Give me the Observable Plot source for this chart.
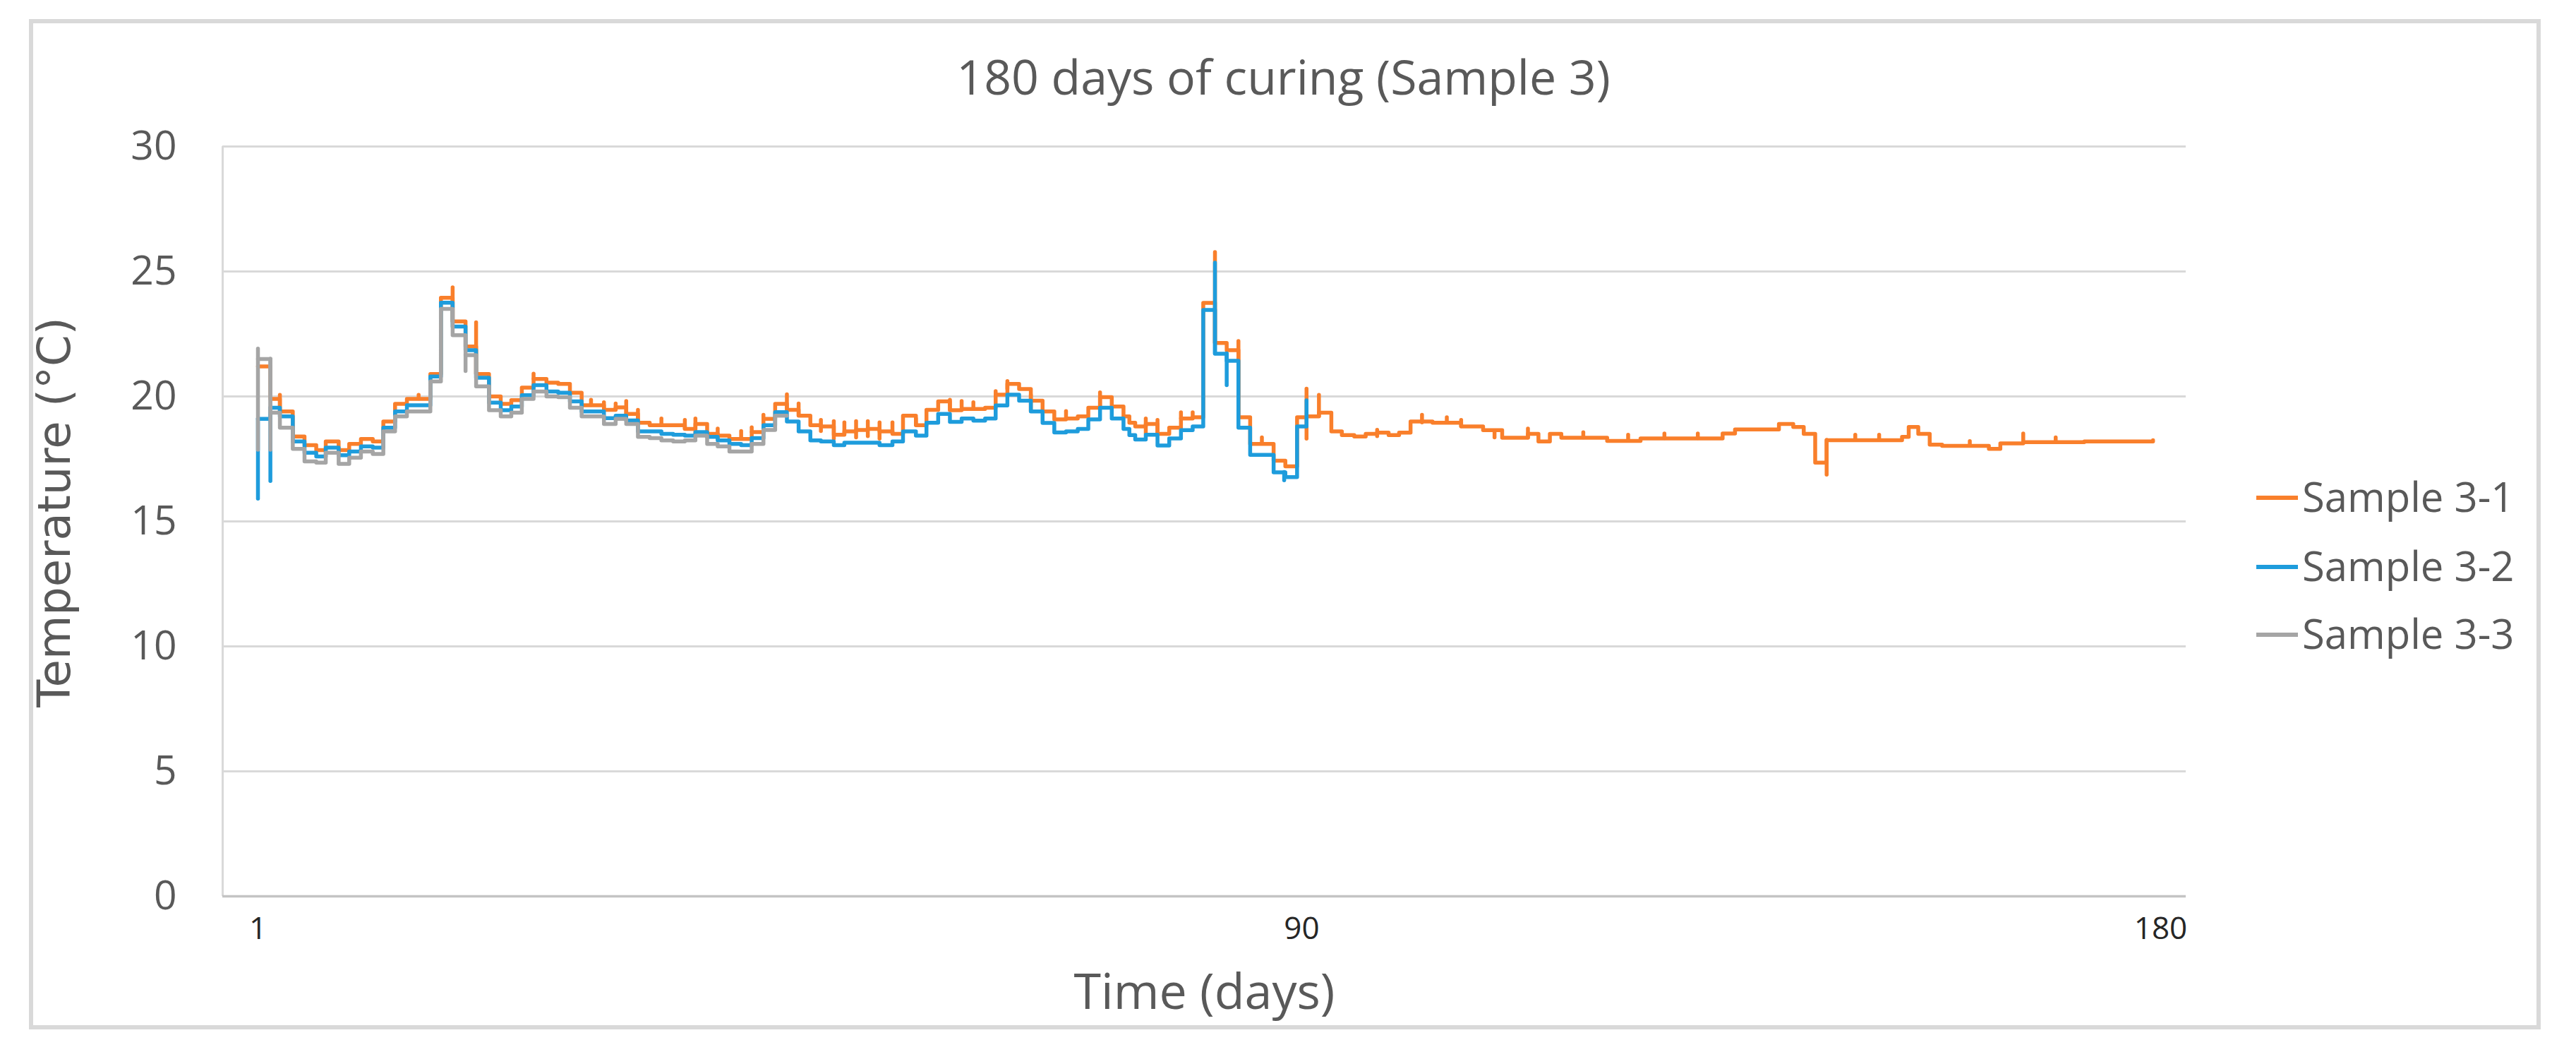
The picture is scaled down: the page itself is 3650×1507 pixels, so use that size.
<!DOCTYPE html>
<html>
<head>
<meta charset="utf-8">
<script src="https://cdn.jsdelivr.net/npm/d3@7"></script>
<script src="https://cdn.jsdelivr.net/npm/@observablehq/plot@0.6"></script>
<style>
  html, body { margin: 0; padding: 0; background: #ffffff; }
  #chart { position: relative; width: 3650px; height: 1507px; }
</style>
</head>
<body>
<div id="chart"></div>
<script>
// ---------- data ----------
const seriesNames = ["Sample 3-1", "Sample 3-2", "Sample 3-3"];
const seriesColors = ["#F97F2B", "#1E9CDC", "#A5A5A5"];

// step start days, first 90 days (shared by the three samples)
const earlyDays = [1.0, 2.06, 2.87, 3.97, 4.97, 5.97, 6.78, 7.88, 8.78, 9.78,
  10.79, 11.69, 12.69, 13.7, 15.7, 16.6, 17.6, 18.7, 19.6, 20.7,
  21.7, 22.6, 23.5, 24.5, 25.6, 26.6, 27.6, 28.6, 30.5, 31.5,
  32.4, 33.4, 34.4, 35.4, 36.4, 37.4, 38.3, 39.3, 40.2, 41.2,
  42.2, 43.1, 44.1, 45.1, 46.1, 47.1, 48.1, 49.0, 50.1, 51.0,
  52.0, 53.0, 54.0, 55.1, 56.0, 57.1, 58.0, 59.0, 60.0, 61.0,
  62.0, 63.0, 63.9, 64.9, 65.9, 66.9, 67.9, 68.9, 69.9, 70.9,
  71.8, 72.8, 73.8, 74.8, 75.3, 75.8, 76.7, 77.7, 78.7, 79.7,
  80.7, 81.6, 82.6, 83.6, 84.6, 85.6, 87.6, 88.6, 89.6, 90.5];

const s31Early = [21.2, 19.9, 19.4, 18.4, 18.05, 17.85, 18.2, 17.85, 18.1, 18.3,
  18.2, 19.0, 19.7, 19.9, 20.9, 23.95, 23.0, 22.0, 20.9, 20.0,
  19.7, 19.85, 20.35, 20.7, 20.55, 20.5, 20.15, 19.65, 19.46, 19.56,
  19.3, 18.95, 18.85, 18.85, 18.85, 18.7, 18.9, 18.5, 18.43, 18.3,
  18.3, 18.57, 19.1, 19.7, 19.46, 19.23, 18.85, 18.8, 18.47, 18.6,
  18.66, 18.7, 18.6, 18.5, 19.23, 18.85, 19.46, 19.8, 19.45, 19.5,
  19.5, 19.55, 20.07, 20.5, 20.3, 19.83, 19.4, 19.08, 19.12, 19.2,
  19.55, 19.97, 19.6, 19.2, 18.95, 18.8, 18.9, 18.5, 18.75, 19.12,
  19.17, 23.74, 22.14, 21.85, 19.17, 18.1, 17.43, 17.2, 19.17, 19.2];

const s32 = [19.1, 19.55, 19.2, 18.2, 17.75, 17.6, 17.95, 17.65, 17.8, 18.0,
  17.95, 18.75, 19.4, 19.65, 20.8, 23.75, 22.8, 21.85, 20.75, 19.75,
  19.45, 19.6, 20.05, 20.45, 20.2, 20.15, 19.8, 19.4, 19.13, 19.23,
  19.04, 18.6, 18.6, 18.5, 18.47, 18.43, 18.57, 18.38, 18.24, 18.1,
  18.05, 18.33, 18.85, 19.37, 19.0, 18.6, 18.24, 18.2, 18.05, 18.15,
  18.15, 18.15, 18.05, 18.2, 18.6, 18.43, 18.95, 19.3, 18.98, 19.12,
  19.03, 19.12, 19.64, 20.07, 19.83, 19.4, 18.94, 18.56, 18.6, 18.7,
  19.08, 19.55, 19.12, 18.7, 18.45, 18.28, 18.47, 18.04, 18.32, 18.65,
  18.8, 23.46, 21.71, 21.43, 18.75, 17.66, 16.96, 16.77, 18.8, 18.8];

const s33 = [21.5, 19.35, 18.75, 17.9, 17.4, 17.35, 17.75, 17.3, 17.55, 17.8,
  17.7, 18.6, 19.2, 19.4, 20.6, 23.5, 22.45, 21.65, 20.4, 19.45,
  19.2, 19.35, 19.9, 20.2, 20.0, 19.97, 19.55, 19.2, 18.9, 19.1,
  18.9, 18.38, 18.33, 18.24, 18.2, 18.24, 18.43, 18.1, 18.0, 17.8,
  17.8, 18.1, 18.66, 19.23, 19.23];

// Sample 3-1 after day 90
const lateDays = [91.8, 93.1, 94.2, 95.5, 96.7, 97.9, 99.1, 100.2, 101.4, 103.7,
  106.7, 109.0, 111.0, 113.7, 114.8, 116.0, 117.2, 122.0, 125.5, 134.1,
  135.4, 140.0, 141.5, 142.6, 143.8, 145.0, 152.9, 153.6, 154.6, 155.8,
  157.1, 162.0, 163.2, 165.6, 172.0, 179.2];
const s31Late = [19.35, 18.6, 18.45, 18.4, 18.5, 18.55, 18.45, 18.55, 19.0, 18.95,
  18.8, 18.65, 18.35, 18.5, 18.2, 18.5, 18.35, 18.22, 18.32, 18.52,
  18.68, 18.9, 18.78, 18.5, 17.35, 18.25, 18.38, 18.78, 18.5, 18.07,
  18.02, 17.9, 18.12, 18.17, 18.2, 18.25];

// short vertical spikes / ticks (day, low, high, sample index)
const spikeDays = [
  2.87, 3.97, 14.7, 17.6, 19.6, 24.5, 32.4, 46.1, 82.6, 84.6, 90.5, 91.8, 145.0, 165.6,
  29.4, 30.5, 31.5, 33.4, 35.4, 37.4, 38.3, 40.2, 42.2, 43.1, 44.1,
  47.1, 49.0, 50.1, 51.0, 52.0, 53.0, 54.0, 55.1, 57.1,
  60.0, 61.0, 62.0, 63.9, 64.9, 66.9, 69.9, 72.8, 76.7, 77.7, 79.7, 80.7, 86.6,
  97.9, 102.6, 105.2, 106.7, 110.2, 113.7, 119.5, 124.2, 128.0, 131.5, 148.0, 150.5, 160.0, 169.0,
  1.0, 2.06, 82.6, 83.6, 88.5, 90.5,
  1.0, 2.06, 18.7];
const spikeLow = [
  19.4, 18.4, 19.9, 23.0, 20.9, 20.7, 19.3, 19.46, 22.14, 19.17, 18.3, 19.2, 16.86, 18.17,
  19.65, 19.46, 19.46, 18.95, 18.85, 18.7, 18.5, 18.3, 18.3, 18.57, 19.1,
  19.23, 18.6, 18.3, 18.47, 18.35, 18.4, 18.3, 18.5, 18.85,
  19.45, 19.5, 19.5, 20.07, 20.3, 19.4, 19.12, 19.6, 18.5, 18.5, 19.12, 19.17, 18.1,
  18.4, 18.95, 18.95, 18.8, 18.35, 18.35, 18.35, 18.22, 18.32, 18.32, 18.25, 18.25, 18.02, 18.17,
  15.9, 16.6, 21.71, 20.44, 16.63, 18.8,
  17.85, 17.85, 21.0];
const spikeHigh = [
  20.05, 18.6, 20.05, 24.35, 22.95, 20.9, 19.8, 20.07, 25.76, 22.2, 20.3, 20.05, 18.25, 18.5,
  19.85, 19.75, 19.7, 19.45, 19.1, 19.05, 19.1, 18.7, 18.6, 18.75, 19.25,
  19.7, 19.05, 19.0, 18.95, 19.0, 19.0, 18.95, 18.95, 19.1,
  19.85, 19.8, 19.75, 20.2, 20.6, 20.05, 19.4, 20.15, 19.1, 19.05, 19.35, 19.35, 18.35,
  18.65, 19.25, 19.15, 19.05, 18.6, 18.7, 18.55, 18.45, 18.5, 18.5, 18.45, 18.45, 18.2, 18.35,
  19.1, 19.55, 25.34, 21.71, 16.96, 19.83,
  21.9, 21.5, 21.65];
const spikeSeries = [
  0, 0, 0, 0, 0, 0, 0, 0, 0, 0, 0, 0, 0, 0,
  0, 0, 0, 0, 0, 0, 0, 0, 0, 0, 0,
  0, 0, 0, 0, 0, 0, 0, 0, 0,
  0, 0, 0, 0, 0, 0, 0, 0, 0, 0, 0, 0, 0,
  0, 0, 0, 0, 0, 0, 0, 0, 0, 0, 0, 0, 0, 0,
  1, 1, 1, 1, 1, 1,
  2, 2, 2];

const yTicks = [0, 5, 10, 15, 20, 25, 30];
const xTicks = [1, 90, 180];
const xDomain = [-2.0, 1, 90, 180, 182.66];   // piecewise category axis as in the source
const xRange  = [315, 365, 1844, 3061, 3097];

// ---------- build tables ----------
const rows = [];
earlyDays.forEach((d, i) => rows.push({day: d, temp: s31Early[i], series: seriesNames[0]}));
lateDays.forEach((d, i) => rows.push({day: d, temp: s31Late[i], series: seriesNames[0]}));
s32.forEach((v, i) => rows.push({day: earlyDays[i], temp: v, series: seriesNames[1]}));
s33.forEach((v, i) => rows.push({day: earlyDays[i], temp: v, series: seriesNames[2]}));

const spikes = spikeDays.map((d, i) => ({day: d, lo: spikeLow[i], hi: spikeHigh[i], series: seriesNames[spikeSeries[i]]}));

const font = "Open Sans";
const lineW = 5.5;
const seriesMarks = seriesNames.flatMap(name => [
  Plot.line(rows.filter(r => r.series === name), {
    x: "day", y: "temp", stroke: "series", curve: "step-after",
    strokeWidth: lineW, strokeLinejoin: "round", strokeLinecap: "round"
  }),
  Plot.ruleX(spikes.filter(s => s.series === name), {
    x: "day", y1: "lo", y2: "hi", stroke: "series", strokeWidth: lineW, strokeLinecap: "round"
  })
]);

const chart = Plot.plot({
  width: 3650,
  height: 1507,
  marginLeft: 315,
  marginRight: 553,
  marginTop: 207,
  marginBottom: 238,
  style: {background: "#ffffff", fontFamily: font, overflow: "visible"},
  x: {type: "linear", domain: xDomain, range: xRange},
  y: {domain: [0, 30]},
  color: {domain: seriesNames, range: seriesColors},
  marks: [
    Plot.gridY(yTicks.slice(1), {stroke: "#d9d9d9", strokeOpacity: 1, strokeWidth: 3}),
    Plot.ruleX([xDomain[0]], {y1: 0, y2: 30, stroke: "#d9d9d9", strokeWidth: 3}),
    Plot.ruleY([0], {stroke: "#c4c4c4", strokeWidth: 3.5}),
    Plot.axisY({ticks: yTicks, tickSize: 0, tickPadding: 65, fontSize: 57, fill: "#595959", label: null, fontFamily: font}),
    Plot.axisX({ticks: xTicks, tickSize: 0, tickPadding: 29, fontSize: 44, fill: "#262626", label: null, fontFamily: font, tickFormat: d => String(d)}),
    ...seriesMarks,
    Plot.text(["180 days of curing (Sample 3)"], {frameAnchor: "top", lineAnchor: "middle", textAnchor: "middle", text: d => d, dx: 112, dy: -95, fontSize: 68, fill: "#595959", fontFamily: font}),
    Plot.text(["Time (days)"], {frameAnchor: "bottom", lineAnchor: "middle", textAnchor: "middle", text: d => d, dy: 137, fontSize: 70, fill: "#595959", fontFamily: font}),
    Plot.text(["Temperature (°C)"], {frameAnchor: "left", lineAnchor: "middle", textAnchor: "middle", text: d => d, dx: -237, dy: -13, rotate: -90, fontSize: 64, fill: "#595959", fontFamily: "DejaVu Sans"})
  ]
});

document.getElementById("chart").appendChild(chart);

// ---------- legend and chart border ----------
const svg = d3.select(chart);
const color = chart.scale("color");
const legend = svg.append("g")
  .attr("font-family", font).attr("font-size", 58).attr("fill", "#595959")
  .attr("text-anchor", "start");
const legendRowY = [705, 803, 899];
seriesNames.forEach((name, i) => {
  legend.append("line")
    .attr("x1", 3197).attr("x2", 3256)
    .attr("y1", legendRowY[i]).attr("y2", legendRowY[i])
    .attr("stroke", color.apply(name)).attr("stroke-width", 6);
  legend.append("text")
    .attr("x", 3262).attr("y", legendRowY[i]).attr("dy", "0.35em")
    .attr("text-anchor", "start")
    .text(name);
});
svg.append("rect")
  .attr("x", 44).attr("y", 30).attr("width", 3553).attr("height", 1425)
  .attr("fill", "none").attr("stroke", "#d9d9d9").attr("stroke-width", 6);
</script>
</body>
</html>
